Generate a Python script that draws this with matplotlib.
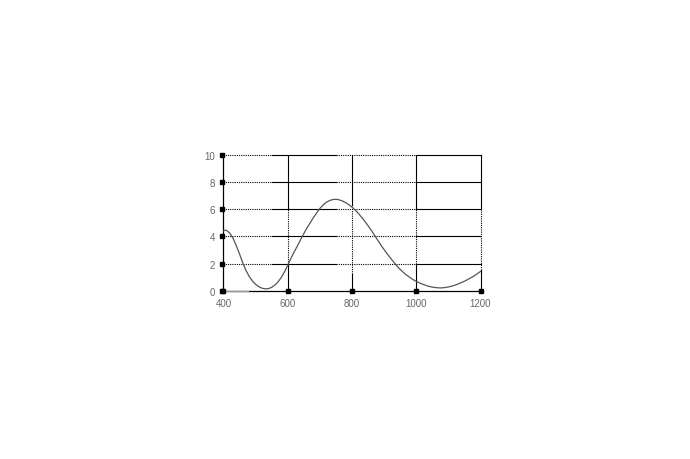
import matplotlib.pyplot as plt

# curve
wl = [400, 405, 410, 420, 430, 440, 450, 460, 470, 480, 490, 500, 510, 520,
      530, 540, 550, 560, 570, 580, 590, 600, 610, 620, 630, 640, 650, 660,
      670, 680, 690, 700, 710, 720, 730, 740, 750, 760, 770, 780, 790, 800,
      810, 820, 830, 840, 850, 860, 870, 880, 890, 900, 910, 920, 930, 940,
      950, 960, 970, 980, 990, 1000, 1012, 1025, 1037, 1050, 1062, 1075,
      1087, 1100, 1112, 1125, 1137, 1150, 1162, 1175, 1187, 1200]
val = [4.40, 4.45, 4.43, 4.22, 3.85, 3.30, 2.70, 2.05, 1.50, 1.05, 0.72,
       0.48, 0.30, 0.19, 0.14, 0.16, 0.25, 0.42, 0.66, 0.98, 1.40, 1.88,
       2.38, 2.85, 3.30, 3.75, 4.20, 4.62, 5.00, 5.38, 5.72, 6.05, 6.30,
       6.50, 6.63, 6.70, 6.72, 6.68, 6.60, 6.48, 6.33, 6.15, 5.93, 5.68,
       5.40, 5.10, 4.78, 4.44, 4.08, 3.72, 3.36, 3.02, 2.70, 2.40, 2.10,
       1.82, 1.57, 1.35, 1.15, 0.98, 0.82, 0.69, 0.56, 0.44, 0.34, 0.27,
       0.23, 0.21, 0.23, 0.28, 0.35, 0.45, 0.57, 0.70, 0.85, 1.02, 1.20, 1.42]

# short flat grey series along the bottom
base_x = [400, 475]
base_y = [0, 0]

xticks = [400, 600, 800, 1000, 1200]
yticks = [0, 2, 4, 6, 8, 10]

# grid style bands (dotted / solid alternate)
x_dotted = [(400, 550), (750, 1000)]
x_solid = [(550, 750), (1000, 1200)]
v_lower = {600: 2.0, 800: 1.2, 1000: 2.0, 1200: 1.5}
v_upper = {600: 6.05, 800: 6.3, 1000: 6.05, 1200: 6.05}

fig = plt.figure(figsize=(6.9, 4.6), dpi=100)
ax = fig.add_axes([0.3239, 0.3657, 0.3725, 0.2959])
ax.set_xlim(400, 1200)
ax.set_ylim(0, 10)

for s in ["top", "right"]:
    ax.spines[s].set_visible(False)
for s in ["left", "bottom"]:
    ax.spines[s].set_linewidth(0.9)
    ax.spines[s].set_color("black")

dot = (0, (1, 1))
lw = 0.8
# horizontal grid
for y in yticks[1:]:
    for a, b in x_dotted:
        ax.plot([a, b], [y, y], color="black", lw=lw, linestyle=dot, clip_on=False)
    for a, b in x_solid:
        ax.plot([a, b], [y, y], color="black", lw=lw, clip_on=False)
# vertical grid
for x in xticks[1:]:
    lo, hi = v_lower[x], v_upper[x]
    ax.plot([x, x], [0, lo], color="black", lw=lw, clip_on=False)
    ax.plot([x, x], [lo, hi], color="black", lw=lw, linestyle=dot, clip_on=False)
    ax.plot([x, x], [hi, 10], color="black", lw=lw, clip_on=False)

ax.plot(wl, val, color="#555555", lw=0.9, zorder=3)
ax.plot(base_x, base_y, color="#999999", lw=1.0, zorder=4, clip_on=False)

# square tick marks
ax.plot(xticks, [0] * len(xticks), "s", color="black", ms=3.0, clip_on=False, zorder=5)
ax.plot([394] * len(yticks), yticks, "s", color="black", ms=2.9, clip_on=False, zorder=5)

ax.set_xticks(xticks)
ax.set_yticks(yticks)
ax.set_xticklabels([str(t) for t in xticks])
ax.set_yticklabels([str(t) for t in yticks])
ax.tick_params(axis="both", length=0, labelsize=7, labelcolor="#666666")
ax.tick_params(axis="x", pad=5)
ax.tick_params(axis="y", pad=6)
for lab in ax.get_xticklabels() + ax.get_yticklabels():
    lab.set_fontfamily("Liberation Sans")

fig.savefig("out.png", dpi=100)
